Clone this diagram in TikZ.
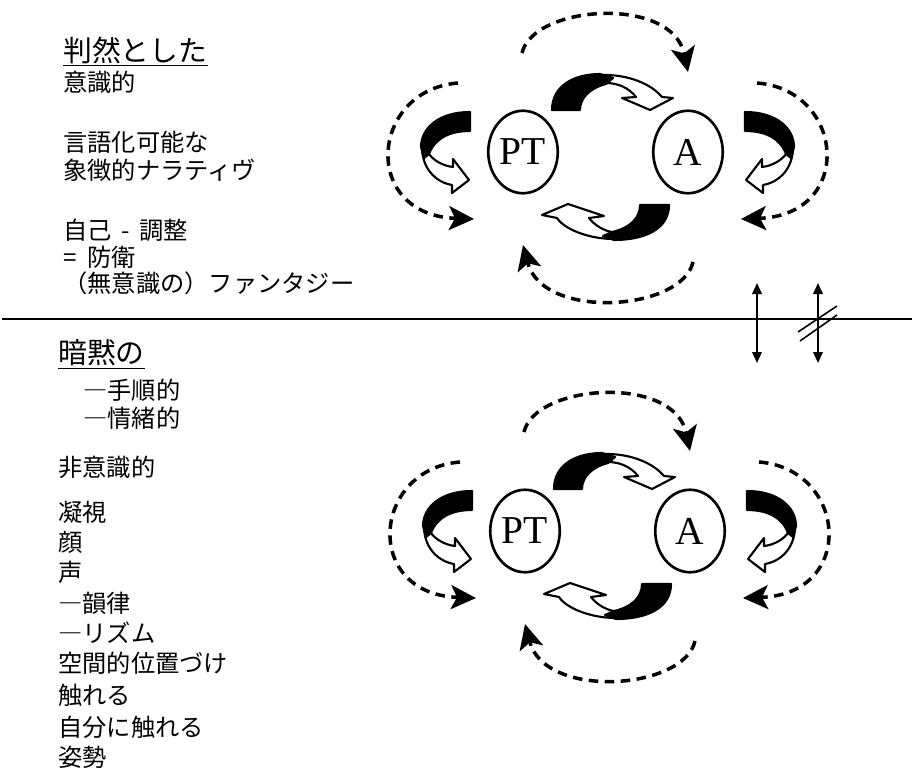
\documentclass[tikz,border=0pt]{standalone}
\usepackage{fontspec}
\setmainfont{Noto Sans CJK JP}
\newfontfamily\latinfont{Liberation Serif}
\usetikzlibrary{arrows.meta,shapes.geometric}

\begin{document}
\begin{tikzpicture}[x=0.02cm,y=-0.02cm,
  txt/.style={anchor=west,inner sep=0pt,font=\fontsize{13.8}{16}\selectfont},
  head/.style={anchor=west,inner sep=0pt,font=\fontsize{16.4}{19}\selectfont},
  person/.style={ellipse,draw,line width=1.5pt,inner sep=0pt,
    minimum width=1.39cm,minimum height=1.65cm,
    font=\latinfont\fontsize{22.5}{25}\selectfont},
  loopline/.style={line width=2pt,dash pattern=on 0.19cm off 0.13cm,
    -{Stealth[length=0.5cm,width=0.48cm,inset=0.12cm]}},
  ribbon/.style={draw=black,line width=1.2pt,line join=round},
  back/.style={ribbon,fill=black},
  front/.style={ribbon,fill=white},
  updown/.style={line width=1.2pt,
    {Triangle[length=0.22cm,width=0.19cm]}-{Triangle[length=0.22cm,width=0.19cm]}}]
  \useasboundingbox (0,0) rectangle (912,767);

  % the two PT--A diagrams
  \foreach \dx/\dy in {0/0,2/379} {
  \begin{scope}[shift={(\dx,\dy)}]
    \node[person] (pt) at (523,152) {PT};
    \node[person] (an) at (688,152) {A};
%
    \draw[loopline] (522,53) .. controls (533,5) and (672,-5) .. (688,72);
    \draw[loopline] (693,262) .. controls (682,311) and (543,321) .. (523,245);
    \draw[loopline] (458,83) .. controls (370,90) and (360,215) .. (474,219);
    \draw[loopline] (757,83) .. controls (845,90) and (855,215) .. (741,219);
%
    \draw[front] (600,75) .. controls (630,74) and (652,85) .. (662,97) -- (673,98) -- (650,110) -- (622,98) -- (636,97) .. controls (629,88) and (618,83) .. (606,83) -- cycle;
    \draw[back]  (552,110) .. controls (552,85) and (575,74) .. (600,74) -- (613,78) -- (606,84) .. controls (590,88) and (580,98) .. (580,110) -- cycle;
    \draw[front] (614,239) .. controls (590,239) and (565,230) .. (557,218) -- (542,215) -- (568,204) -- (604,216) -- (589,218) .. controls (595,226) and (605,231) .. (612,232) -- cycle;
    \draw[back]  (669,205) .. controls (669,229) and (645,240) .. (614,240) -- (603,236) -- (612,232) .. controls (630,228) and (640,218) .. (640,205) -- cycle;
    \draw[front] (793,147) .. controls (793,168) and (780,182) .. (763,185) -- (763,193) -- (746,180) -- (762,159) -- (762,167) .. controls (772,166) and (782,160) .. (786,154) -- cycle;
    \draw[back]  (745,112) .. controls (776,112) and (794,128) .. (794,147) -- (791,158) -- (786,154) .. controls (780,138) and (765,131) .. (745,131) -- cycle;
    \draw[front] (422,147) .. controls (422,168) and (435,182) .. (452,185) -- (452,193) -- (469,180) -- (453,159) -- (453,167) .. controls (443,166) and (433,160) .. (429,154) -- cycle;
    \draw[back]  (470,112) .. controls (439,112) and (421,128) .. (421,147) -- (424,158) -- (429,154) .. controls (435,138) and (450,131) .. (470,131) -- cycle;
  \end{scope}
  }

  % divider and the two vertical arrows
  \coordinate (lineL) at (2,319);
  \coordinate (lineR) at (912,319);
  \draw[line width=1.1pt] (lineL) -- (lineR);
  \coordinate (up1) at (757,283);
  \coordinate (dn1) at (757,363);
  \coordinate (up2) at (818,283);
  \coordinate (dn2) at (818,363);
  \draw[updown] (up1) -- (dn1);
  \draw[updown] (up2) -- (dn2);
  \draw[line width=0.9pt] (798,332) -- (837,306);
  \draw[line width=0.9pt] (800,341) -- (837,315);

  % upper list
  \node[head] (explicit) at (63,50) {判然とした};
  \draw[line width=0.8pt] ([yshift=-1pt]explicit.south west) -- ([yshift=-1pt]explicit.south east);
  \node[txt] (e1) at (63,82)  {意識的};
  \node[txt] (e2) at (63,142) {言語化可能な};
  \node[txt] (e3) at (63,170) {象徴的ナラティヴ};
  \node[txt] (e4) at (63,230) {自己\hspace{0.4em}-\hspace{0.4em}調整};
  \node[txt] (e5) at (63,257) {=\hspace{0.45em}防衛};
  \node[txt] (e6) at (63,283) {（無意識の）ファンタジー};

  % lower list
  \node[head] (implicit) at (58,353) {暗黙の};
  \draw[line width=0.8pt] ([yshift=-1pt]implicit.south west) -- ([yshift=-1pt]implicit.south east);
  \node[txt] (i1)  at (83,390) {―手順的};
  \node[txt] (i2)  at (83,418) {―情緒的};
  \node[txt] (i3)  at (58,467) {非意識的};
  \node[txt] (i4)  at (58,512) {凝視};
  \node[txt] (i5)  at (58,542) {顔};
  \node[txt] (i6)  at (58,572) {声};
  \node[txt] (i7)  at (58,603) {―韻律};
  \node[txt] (i8)  at (58,633) {―リズム};
  \node[txt] (i9)  at (58,663) {空間的位置づけ};
  \node[txt] (i10) at (58,695) {触れる};
  \node[txt] (i11) at (58,727) {自分に触れる};
  \node[txt] (i12) at (58,757) {姿勢};
\end{tikzpicture}
\end{document}
